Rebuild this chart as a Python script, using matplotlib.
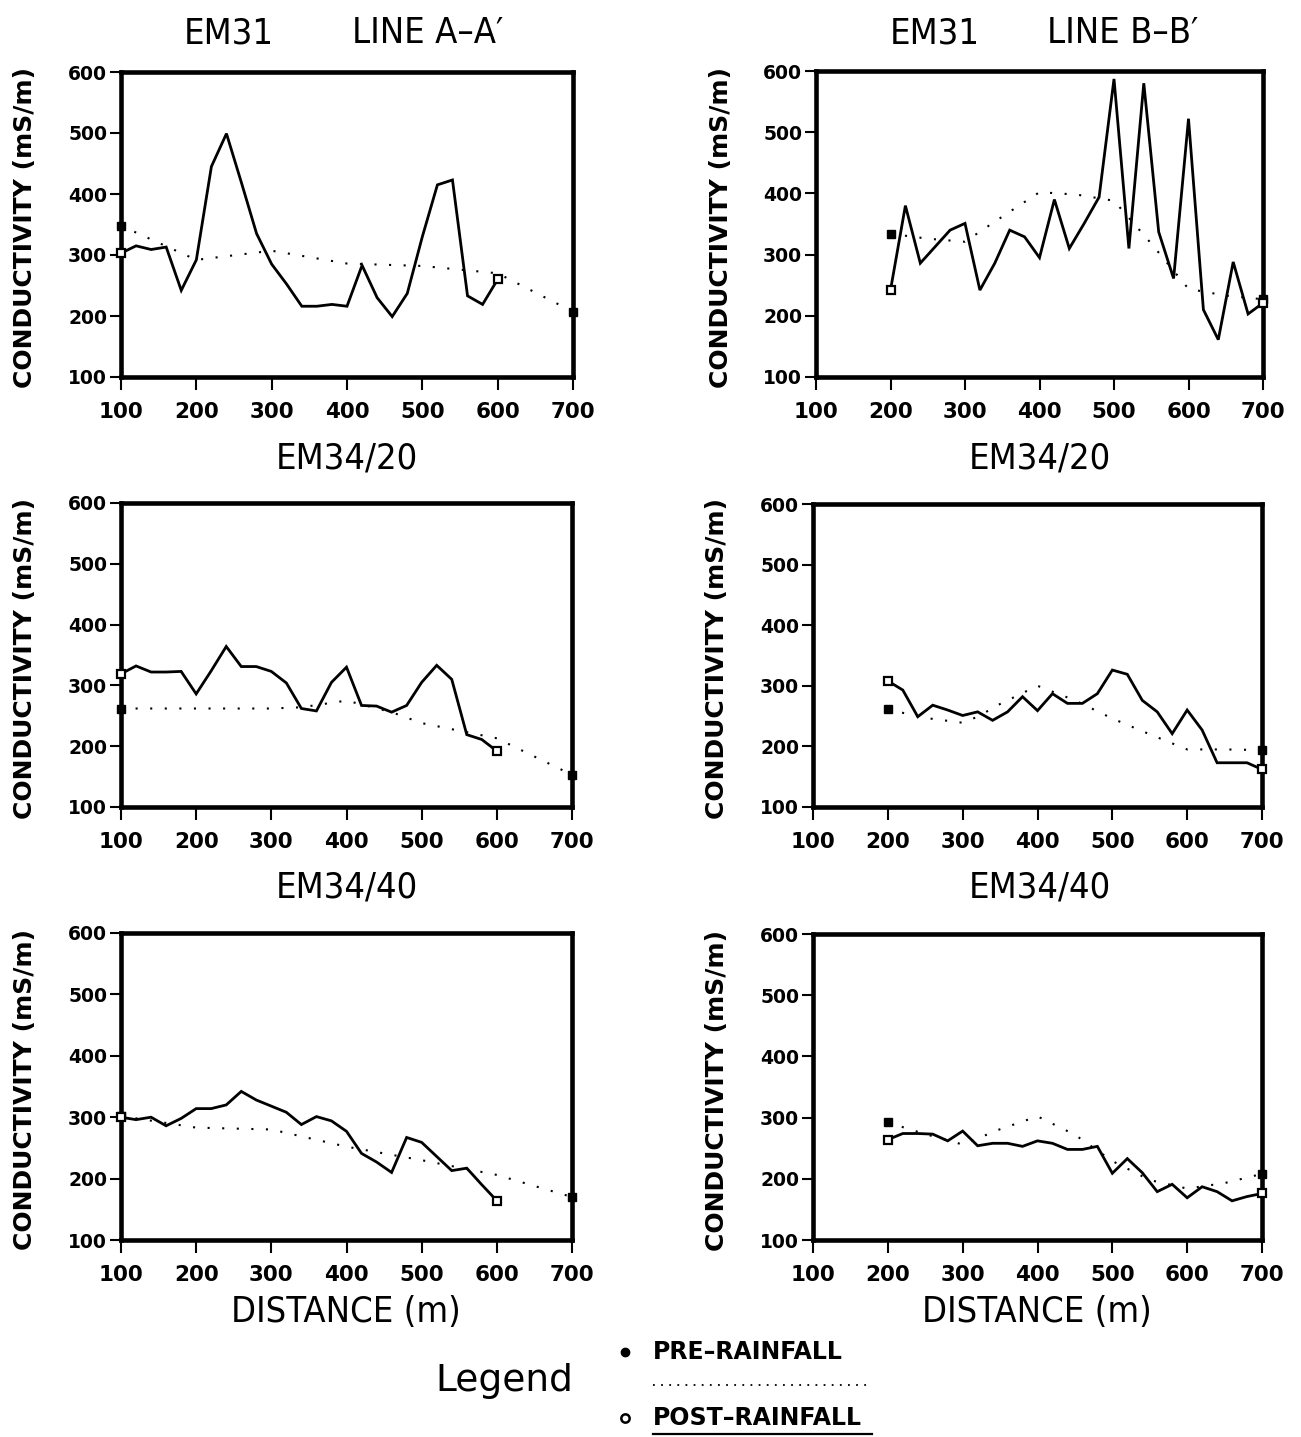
import matplotlib
matplotlib.use("Agg")
import matplotlib.pyplot as plt
from matplotlib.lines import Line2D

# ---------------- data ----------------
# Line A-A' (x from 100 to 700 m)
a_post_x = [100, 120, 140, 160, 180, 200, 220, 240, 260, 280, 300, 320, 340,
            360, 380, 400, 420, 440, 460, 480, 500, 520, 540, 560, 580, 600]
# Line B-B'
b_post_x = [200, 220, 240, 260, 280, 300, 320, 340, 360, 380, 400, 420, 440,
            460, 480, 500, 520, 540, 560, 580, 600, 620, 640, 660, 680, 700]

# EM31 line A-A'
em31_a_post = [303, 315, 309, 313, 242, 292, 445, 499, 418, 335, 285, 252, 216,
               216, 219, 216, 283, 230, 199, 237, 330, 415, 423, 233, 219, 260]
em31_a_pre_x = [100, 200, 300, 400, 500, 600, 700]
em31_a_pre = [348, 292, 307, 286, 282, 270, 207]

# EM31 line B-B'
em31_b_post = [242, 380, 286, 313, 340, 351, 242, 286, 340, 329, 295, 390, 310,
               351, 394, 587, 310, 580, 337, 261, 522, 210, 161, 288, 203, 221]
em31_b_pre_x = [200, 250, 300, 350, 400, 450, 500, 550, 600, 650, 700]
em31_b_pre = [334, 326, 321, 362, 402, 398, 388, 318, 244, 233, 227]

# EM34/20 line A-A'
em3420_a_post = [319, 332, 322, 322, 323, 286, 324, 364, 331, 331, 323, 304, 262,
                 258, 305, 330, 267, 266, 256, 267, 305, 333, 310, 219, 211, 192]
em3420_a_pre_x = [100, 200, 300, 340, 400, 460, 500, 600, 700]
em3420_a_pre = [262, 262, 262, 264, 275, 256, 238, 213, 153]

# EM34/20 line B-B'
em3420_b_post = [308, 293, 249, 268, 260, 251, 257, 243, 257, 282, 259, 287, 271,
                 271, 287, 326, 319, 276, 257, 221, 260, 227, 173, 173, 173, 162]
em3420_b_pre_x = [200, 250, 300, 320, 350, 400, 450, 500, 550, 600, 650, 700]
em3420_b_pre = [261, 247, 239, 249, 270, 300, 276, 246, 220, 195, 195, 194]

# EM34/40 line A-A'
em3440_a_post = [300, 296, 300, 286, 298, 314, 314, 320, 342, 328, 318, 308, 288,
                 301, 294, 277, 241, 227, 210, 267, 259, 236, 213, 217, 190, 164]
em3440_a_pre_x = [100, 200, 300, 400, 500, 600, 700]
em3440_a_pre = [302, 283, 280, 252, 230, 206, 170]

# EM34/40 line B-B'
em3440_b_post = [264, 274, 274, 273, 262, 278, 254, 258, 258, 253, 262, 258, 248,
                 248, 253, 209, 233, 210, 179, 191, 169, 187, 179, 164, 171, 176]
em3440_b_pre_x = [200, 250, 300, 350, 400, 450, 500, 550, 600, 650, 700]
em3440_b_pre = [292, 273, 256, 281, 302, 272, 229, 198, 184, 193, 208]

x_ticks = [100, 200, 300, 400, 500, 600, 700]
y_ticks = [100, 200, 300, 400, 500, 600]

# ---------------- figure ----------------
W, H = 1301, 1437
fig = plt.figure(figsize=(W / 100, H / 100), dpi=100)
fig.patch.set_facecolor("white")


def fx(px):
    return px / W


def fy(py):
    return 1 - py / H


def make_ax(l, t, r, b):
    return fig.add_axes([fx(l), fy(b), (r - l) / W, (b - t) / H])


boxes = [
    (121, 72, 573, 377), (816, 71, 1263, 377),
    (121, 503, 572, 807), (813, 504, 1262, 807),
    (121, 933, 572, 1240), (813, 934, 1262, 1240),
]

panels = [
    (a_post_x, em31_a_post, em31_a_pre_x, em31_a_pre),
    (b_post_x, em31_b_post, em31_b_pre_x, em31_b_pre),
    (a_post_x, em3420_a_post, em3420_a_pre_x, em3420_a_pre),
    (b_post_x, em3420_b_post, em3420_b_pre_x, em3420_b_pre),
    (a_post_x, em3440_a_post, em3440_a_pre_x, em3440_a_pre),
    (b_post_x, em3440_b_post, em3440_b_pre_x, em3440_b_pre),
]

dotted = (0, (1, 6))

for i, (box, (px, py, qx, qy)) in enumerate(zip(boxes, panels)):
    ax = make_ax(*box)
    ax.plot(px, py, color="black", lw=2.0, solid_joinstyle="miter", zorder=3)
    ax.plot(qx, qy, color="black", lw=1.5, linestyle=dotted, zorder=3)
    # end markers
    ax.plot([qx[0], qx[-1]], [qy[0], qy[-1]], linestyle="none", marker="s",
            ms=6, mfc="black", mec="black", clip_on=False, zorder=5)
    ax.plot([px[0], px[-1]], [py[0], py[-1]], linestyle="none", marker="s",
            ms=6, mfc="white", mec="black", mew=1.6, clip_on=False, zorder=5)
    ax.set_xlim(100, 700)
    ax.set_ylim(100, 600)
    ax.set_xticks(x_ticks)
    ax.set_yticks(y_ticks)
    ax.set_xticklabels([str(v) for v in x_ticks], fontsize=15.5, fontweight="bold")
    ax.set_yticklabels([str(v) for v in y_ticks], fontsize=13.5, fontweight="bold")
    ax.tick_params(axis="x", direction="out", length=9, width=1.5, pad=9)
    ax.tick_params(axis="y", direction="out", length=8, width=1.5, pad=2)
    for s in ax.spines.values():
        s.set_linewidth(3.3)
    ax.set_ylabel("CONDUCTIVITY (mS/m)", fontsize=18, fontweight="bold")
    ax.yaxis.set_label_coords(-0.186, 0.49)

# ---------------- titles ----------------
tfont = dict(fontsize=26, ha="center", va="center", fontstretch="condensed")
fig.text(fx(229), fy(33), "EM31", **tfont)
fig.text(fx(428), fy(33), "LINE A–A′", **tfont)
fig.text(fx(935), fy(33), "EM31", **tfont)
fig.text(fx(1123), fy(33), "LINE B–B′", **tfont)
fig.text(fx(347), fy(458), "EM34/20", **tfont)
fig.text(fx(1040), fy(458), "EM34/20", **tfont)
fig.text(fx(347), fy(888), "EM34/40", **tfont)
fig.text(fx(1040), fy(888), "EM34/40", **tfont)

# x labels
fig.text(fx(346), fy(1312), "DISTANCE (m)", **tfont)
fig.text(fx(1037), fy(1312), "DISTANCE (m)", **tfont)

# ---------------- legend ----------------
fig.text(fx(435), fy(1381), "Legend", fontsize=27, ha="left", va="center")
fig.add_artist(Line2D([fx(625)], [fy(1352)], marker="o", ms=6, mfc="black",
                      mec="black", linestyle="none"))
fig.add_artist(Line2D([fx(625)], [fy(1418)], marker="o", ms=6, mfc="white",
                      mec="black", mew=1.8, linestyle="none"))
fig.text(fx(653), fy(1352), "PRE–RAINFALL", fontsize=17, fontweight="bold",
         ha="left", va="center")
fig.text(fx(653), fy(1418), "POST–RAINFALL", fontsize=17, fontweight="bold",
         ha="left", va="center")
fig.add_artist(Line2D([fx(653), fx(872)], [fy(1385), fy(1385)], color="black",
                      lw=1.3, linestyle=(0, (1, 3.5))))
fig.add_artist(Line2D([fx(653), fx(872)], [fy(1434), fy(1434)], color="black",
                      lw=1.6))

fig.savefig("out.png", dpi=100, facecolor="white")
